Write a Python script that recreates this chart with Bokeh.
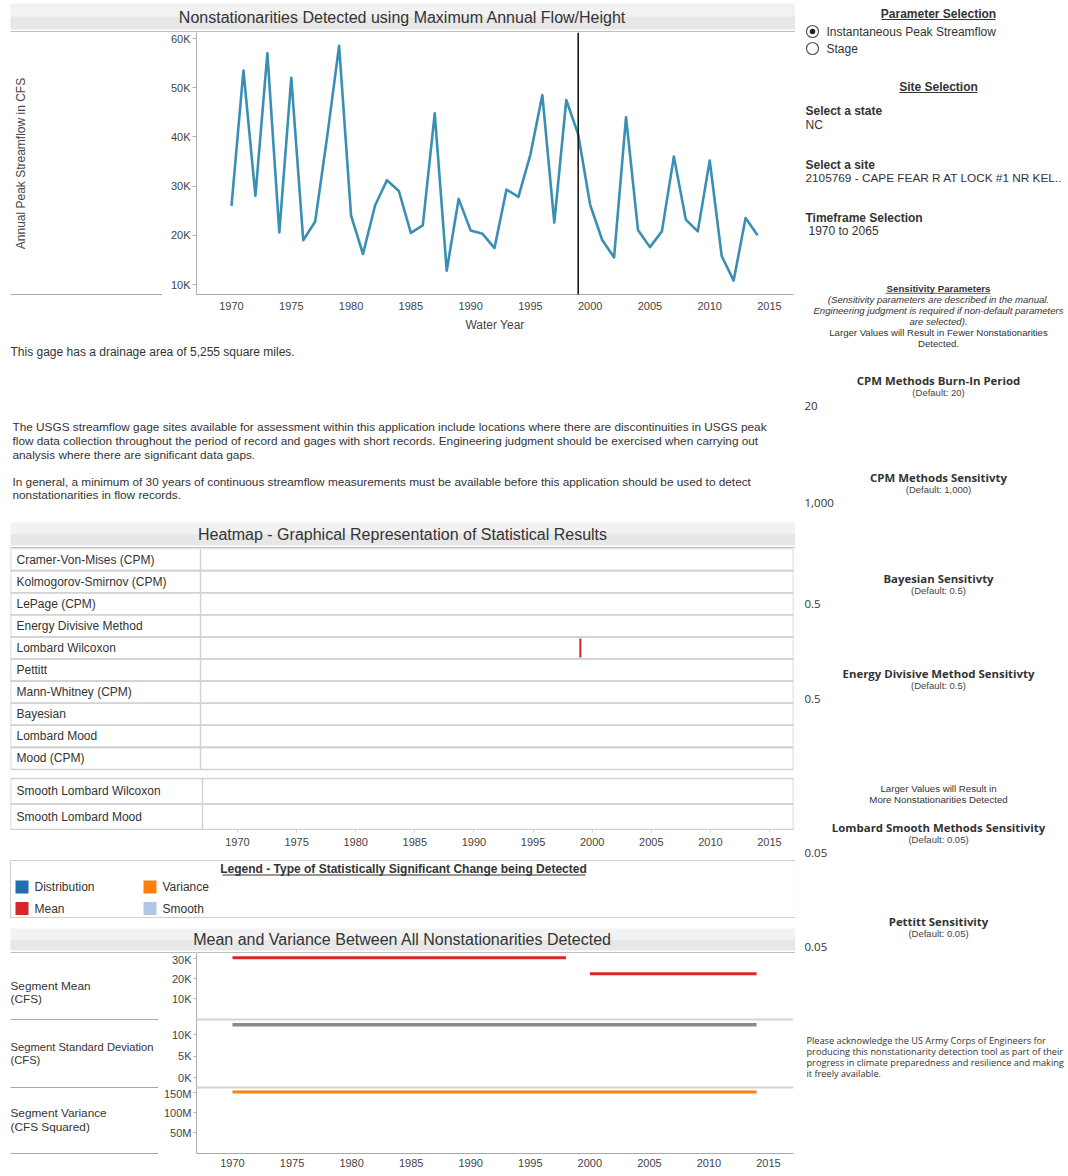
import math
from bokeh.plotting import figure
from bokeh.layouts import row, column
from bokeh.models import Range1d, FixedTicker, Span
from bokeh.core.properties import value
from bokeh.embed import file_html
from bokeh.resources import INLINE

# ---------------- data ----------------
years = list(range(1970, 2015))
peak_flow = [26000, 53500, 28000, 57000, 20600, 52000, 19000, 22800, 40000, 58500,
             24000, 16200, 26000, 31200, 29000, 20500, 22000, 44800, 12800, 27400,
             21000, 20300, 17400, 29300, 27800, 36400, 48500, 22600, 47500, 40500,
             26200, 19100, 15500, 44000, 21100, 17600, 20800, 36000, 23200, 20800,
             35200, 15800, 10800, 23500, 20000]
change_years = [1999]
year_ticks = [1970, 1975, 1980, 1985, 1990, 1995, 2000, 2005, 2010, 2015]
flow_ticks = [10000, 20000, 30000, 40000, 50000, 60000]
flow_tick_labels = ["10K", "20K", "30K", "40K", "50K", "60K"]

methods = ["Cramer-Von-Mises (CPM)", "Kolmogorov-Smirnov (CPM)", "LePage (CPM)",
           "Energy Divisive Method", "Lombard Wilcoxon", "Pettitt", "Mann-Whitney (CPM)",
           "Bayesian", "Lombard Mood", "Mood (CPM)"]
smooth_methods = ["Smooth Lombard Wilcoxon", "Smooth Lombard Mood"]
det_method = ["Lombard Wilcoxon"]
det_year = [1999]
det_type = ["Mean"]
change_types = ["Distribution", "Mean", "Variance", "Smooth"]
change_colors = ["#1f6fae", "#d62728", "#ff7f0e", "#aec7e8"]

seg_start = [1970, 2000]
seg_end = [1998, 2014]
seg_mean = [30400, 22400]
sd_start = [1970]
sd_end = [2014]
seg_sd = [12300]
seg_var = [151500000]
mean_ticks = [10000, 20000, 30000]
mean_tick_labels = ["10K", "20K", "30K"]
sd_ticks = [0, 5000, 10000]
sd_tick_labels = ["0K", "5K", "10K"]
var_ticks = [50000000, 100000000, 150000000]
var_tick_labels = ["50M", "100M", "150M"]

# ---------------- helpers ----------------
FONT = "Liberation Sans"
SEGOE = "Open Sans"
TXT = "#333333"
AX = "#b0b0b0"
LW = 795  # left column width


def base_fig(w, h, xr, yr, **kw):
    p = figure(width=w, height=h, x_range=xr, y_range=yr, toolbar_location=None,
               tools="", output_backend="svg", **kw)
    p.outline_line_color = None
    p.grid.visible = False
    p.background_fill_color = "white"
    p.border_fill_color = "white"
    return p


def pix_fig(w, h):
    p = base_fig(w, h, Range1d(0, w), Range1d(h, 0), x_axis_location=None,
                 y_axis_location=None, min_border=0)
    p.frame_align = False
    return p


def txt(p, x, y, s, size=12, style="normal", align="left", color=TXT, font=FONT, angle=0):
    xs = x if isinstance(x, list) else [x]
    ys = y if isinstance(y, list) else [y]
    ss = s if isinstance(s, list) else [s]
    p.text(x=xs, y=ys, text=ss, text_font=value(font), text_font_size=f"{size}px",
           text_font_style=style, text_align=align, text_baseline="middle",
           text_color=color, angle=angle)


def hline(p, x0, x1, y, color=AX, width=1):
    p.segment(x0=[x0], y0=[y], x1=[x1], y1=[y], line_color=color, line_width=width)


def style_axis(ax, size="11px"):
    ax.major_label_text_font = FONT
    ax.major_label_text_font_size = size
    ax.major_label_text_color = "#444444"
    ax.axis_line_color = AX
    ax.major_tick_line_color = AX
    ax.minor_tick_line_color = None
    ax.major_tick_in = 0


def title_bar(h, top, bot, text, ty, rule_y):
    p = pix_fig(LW, h)
    mid = (top + bot) / 2
    p.quad(left=[10], right=[LW], top=[top], bottom=[mid], fill_color="#f2f2f2", line_color=None)
    p.quad(left=[10], right=[LW], top=[mid], bottom=[bot], fill_color="#e7e7e7", line_color=None)
    txt(p, 402, ty, text, size=16, align="center", color="#333333")
    hline(p, 10, LW, rule_y, color="#a8a8a8", width=1.2)
    return p


# ---------------- top chart ----------------
t1 = title_bar(32, 3, 29, "Nonstationarities Detected using Maximum Annual Flow/Height", 16.5, 31.4)

l1 = pix_fig(162, 308)
txt(l1, 20, 131, "Annual Peak Streamflow in CFS", size=12, align="center",
    color="#444444", angle=math.pi / 2)
hline(l1, 10, 162, 262, color="#a8a8a8")

ppy_t = (769 - 231) / 45
top = base_fig(633, 308, Range1d(1970 - 35 / ppy_t, 2015 + 24 / ppy_t), Range1d(7970, 61220),
               min_border_left=34, min_border_right=2, min_border_top=0, min_border_bottom=46)
top.frame_align = False
top.line(years, peak_flow, line_color="#3a8fb5", line_width=2.6, line_join="round")
for cy in change_years:
    top.add_layout(Span(location=cy, dimension="height", line_color="#1a1a1a", line_width=1.6))
xa = top.xaxis[0]
style_axis(xa)
xa.axis_line_color = "#a8a8a8"
xa.ticker = FixedTicker(ticks=year_ticks)
xa.major_tick_out = 0
xa.major_label_standoff = 7
xa.axis_label = "Water Year"
xa.axis_label_text_font = FONT
xa.axis_label_text_font_size = "12px"
xa.axis_label_text_font_style = "normal"
xa.axis_label_text_color = "#444444"
xa.axis_label_standoff = 5
ya = top.yaxis[0]
style_axis(ya)
ya.ticker = FixedTicker(ticks=flow_ticks)
ya.major_label_overrides = dict(zip(flow_ticks, flow_tick_labels))
ya.major_tick_out = 4
ya.major_label_standoff = 2

top_sec = column(t1, row(l1, top))

# ---------------- text block ----------------
tf = pix_fig(LW, 175)
txt(tf, 10, 11, "This gage has a drainage area of 5,255 square miles.", size=12)
para1 = ["The USGS streamflow gage sites available for assessment within this application include locations where there are discontinuities in USGS peak",
         "flow data collection throughout the period of record and gages with short records. Engineering judgment should be exercised when carrying out",
         "analysis where there are significant data gaps."]
para2 = ["In general, a minimum of 30 years of continuous streamflow measurements must be available before this application should be used to detect",
         "nonstationarities in flow records."]
txt(tf, [12] * 3, [86, 100, 114], para1, size=11.8)
txt(tf, [12] * 2, [141, 154], para2, size=11.8)

# ---------------- heatmap ----------------
t2 = title_bar(33, 7, 30, "Heatmap - Graphical Representation of Statistical Results", 19, 32.4)

ppy_h = (769 - 237) / 45
hx0 = 1970 - (237 - 10) / ppy_h
hx1 = 2015 + (793 - 769) / ppy_h
heat = base_fig(LW, 307, Range1d(hx0, hx1), Range1d(281, 0), y_axis_location=None,
                min_border_left=10, min_border_right=2, min_border_top=0, min_border_bottom=26)
heat.frame_align = False
row_h = 22.1
tops1 = [i * row_h for i in range(len(methods))]
bots1 = [(i + 1) * row_h for i in range(len(methods))]
heat.quad(left=hx0, right=hx1, top=tops1, bottom=bots1, fill_color=None,
          line_color="#d2d2d2", line_width=1.6)
sep1 = hx0 + (200 - 10) / ppy_h
heat.segment(x0=[sep1], y0=[0], x1=[sep1], y1=[bots1[-1]], line_color="#d2d2d2", line_width=1.4)
p2_top = bots1[-1] + 9
row_h2 = (281 - p2_top) / len(smooth_methods)
tops2 = [p2_top + i * row_h2 for i in range(len(smooth_methods))]
bots2 = [p2_top + (i + 1) * row_h2 for i in range(len(smooth_methods))]
heat.quad(left=hx0, right=hx1, top=tops2, bottom=bots2, fill_color=None,
          line_color="#d2d2d2", line_width=1.6)
sep2 = hx0 + (202 - 10) / ppy_h
heat.segment(x0=[sep2], y0=[p2_top], x1=[sep2], y1=[281], line_color="#d2d2d2", line_width=1.4)
lab_x = hx0 + 6 / ppy_h
txt(heat, [lab_x] * len(methods), [t + row_h / 2 for t in tops1], methods, size=12)
txt(heat, [lab_x] * len(smooth_methods), [t + row_h2 / 2 for t in tops2], smooth_methods, size=12)
for m, yr, tp in zip(det_method, det_year, det_type):
    i = methods.index(m)
    heat.quad(left=[yr - 1 / ppy_h], right=[yr + 1 / ppy_h], top=[tops1[i] + 1.5],
              bottom=[bots1[i] - 1.5], fill_color=change_colors[change_types.index(tp)],
              line_color=None)
hxa = heat.xaxis[0]
style_axis(hxa)
hxa.axis_line_color = "#d2d2d2"
hxa.major_tick_line_color = "#d2d2d2"
hxa.ticker = FixedTicker(ticks=year_ticks)
hxa.major_tick_out = 3
hxa.major_label_standoff = 5

heat_sec = column(t2, heat)

# ---------------- legend ----------------
lf = pix_fig(LW, 70)
lf.quad(left=[10], right=[LW], top=[5], bottom=[62], fill_color=None, line_color="#d0d0d0", line_width=1.2)
txt(lf, 403, 13, "Legend - Type of Statistically Significant Change being Detected", size=12,
    style="bold", align="center")
hline(lf, 222, 585, 19.5, color="#333333", width=1)
leg_x = [21.5, 21.5, 149.5, 149.5]
leg_y = [31.5, 53, 31.5, 53]
lf.rect(x=leg_x, y=leg_y, width=13, height=13, fill_color=change_colors, line_color=None)
txt(lf, [x + 12.5 for x in leg_x], leg_y, change_types, size=12)

# ---------------- bottom: mean & variance ----------------
t3 = title_bar(28, 3, 25, "Mean and Variance Between All Nonstationarities Detected", 14, 27.4)

LB = 158  # width of the bottom label strip
l3 = pix_fig(LB, 223)
txt(l3, [10, 10], [32, 45], ["Segment Mean", "(CFS)"], size=11.8)
txt(l3, [10, 10], [93, 106], ["Segment Standard Deviation", "(CFS)"], size=11.2)
txt(l3, [10, 10], [159, 173], ["Segment Variance", "(CFS Squared)"], size=11.8)
hline(l3, 10, LB, 66, color="#a8a8a8", width=1.2)
hline(l3, 10, LB, 134, color="#a8a8a8", width=1.2)
hline(l3, 10, LB, 200, color="#a8a8a8", width=1.2)

ppy_b = (768 - 232) / 45
bx = Range1d(1970 - (232 - 196) / ppy_b, 2015 + (793 - 768) / ppy_b)
CW = LW - LB
BL = 196 - LB


def seg_fig(h, y0, y1, ticks, labels, bottom_border=0):
    p = base_fig(CW, h, bx, Range1d(y0, y1), x_axis_location=None if bottom_border == 0 else "below",
                 min_border_left=BL, min_border_right=2, min_border_top=0,
                 min_border_bottom=bottom_border)
    a = p.yaxis[0]
    style_axis(a)
    a.ticker = FixedTicker(ticks=ticks)
    a.major_label_overrides = dict(zip(ticks, labels))
    a.major_tick_out = 3
    a.major_label_standoff = 2
    return p


mf = seg_fig(66, -500, 32500, mean_ticks, mean_tick_labels)
mf.segment(x0=seg_start, y0=seg_mean, x1=seg_end, y1=seg_mean, line_color="#d62728", line_width=3)
mf.add_layout(Span(location=-500, dimension="width", line_color="#a8a8a8", line_width=1.6))

sf = seg_fig(68, -2300, 13500, sd_ticks, sd_tick_labels)
sf.segment(x0=sd_start, y0=seg_sd, x1=sd_end, y1=seg_sd, line_color="#8a8a8a", line_width=3.5)
sf.add_layout(Span(location=13500, dimension="width", line_color="#a8a8a8", line_width=1.6))
sf.add_layout(Span(location=-2300, dimension="width", line_color="#a8a8a8", line_width=1.6))

vf = seg_fig(89, -2500000, 162500000, var_ticks, var_tick_labels, bottom_border=23)
vf.segment(x0=sd_start, y0=seg_var, x1=sd_end, y1=seg_var, line_color="#ff7f0e", line_width=3)
vf.add_layout(Span(location=162500000, dimension="width", line_color="#a8a8a8", line_width=1.6))
vxa = vf.xaxis[0]
style_axis(vxa)
vxa.axis_line_color = "#a8a8a8"
vxa.ticker = FixedTicker(ticks=year_ticks)
vxa.major_tick_out = 0
vxa.major_label_standoff = 5

bot_sec = column(t3, row(l3, column(mf, sf, vf)))

# ---------------- right panel ----------------
RW = 1068 - LW
rf = pix_fig(RW, 1176)
X = lambda a: a - LW
Y = lambda a: a
CX = X(938)

txt(rf, CX, Y(13), "Parameter Selection", size=12, style="bold", align="center")
hline(rf, X(881), X(995), Y(19), color="#333333")
rf.scatter(x=[X(812), X(812)], y=[Y(31), Y(48)], size=12, marker="circle",
           fill_color="white", line_color="#555555", line_width=1.2)
rf.scatter(x=[X(812)], y=[Y(31)], size=5.5, marker="circle", fill_color="#222222", line_color=None)
txt(rf, [X(826), X(826)], [Y(31), Y(48)], ["Instantaneous Peak Streamflow", "Stage"], size=12)

txt(rf, CX, Y(86), "Site Selection", size=12, style="bold", align="center")
hline(rf, X(899), X(977), Y(92), color="#333333")
txt(rf, X(805), Y(110), "Select a state", size=12, style="bold")
txt(rf, X(805), Y(124), "NC", size=12)
txt(rf, X(805), Y(164), "Select a site", size=12, style="bold")
txt(rf, X(805), Y(177), "2105769 - CAPE FEAR R AT LOCK #1 NR KEL..", size=11.8)
txt(rf, X(805), Y(217), "Timeframe Selection", size=12, style="bold")
txt(rf, X(808), Y(230), "1970 to 2065", size=12)

txt(rf, CX, Y(288), "Sensitivity Parameters", size=9.7, style="bold", align="center")
hline(rf, X(885), X(990), Y(292.8), color="#333333", width=0.8)
txt(rf, [CX] * 3, [Y(299), Y(310), Y(321)],
    ["(Sensitivity parameters are described in the manual.",
     "Engineering judgment is required if non-default parameters",
     "are selected)."], size=9.6, style="italic", align="center")
txt(rf, [CX] * 2, [Y(332), Y(343)],
    ["Larger Values will Result in Fewer Nonstationarities", "Detected."], size=9.6, align="center")

sens_titles = ["CPM Methods Burn-In Period", "CPM Methods Sensitivty", "Bayesian Sensitivty",
               "Energy Divisive Method Sensitivty", "Lombard Smooth Methods Sensitivity",
               "Pettitt Sensitivity"]
sens_defaults = ["(Default: 20)", "(Default: 1,000)", "(Default: 0.5)", "(Default: 0.5)",
                 "(Default: 0.05)", "(Default: 0.05)"]
sens_values = ["20", "1,000", "0.5", "0.5", "0.05", "0.05"]
sens_y = [380, 477, 578, 673, 827, 921]
for t, d, v, yy in zip(sens_titles, sens_defaults, sens_values, sens_y):
    txt(rf, CX, Y(yy), t, size=11.4, style="bold", align="center", font=SEGOE)
    txt(rf, CX, Y(yy + 12), d, size=9.5, align="center", color="#444444")
    txt(rf, X(804), Y(yy + 25.5), v, size=11.5, font=SEGOE)

txt(rf, [CX] * 2, [Y(788), Y(798.5)],
    ["Larger Values will Result in", "More Nonstationarities Detected"], size=9.7, align="center")

ack = ["Please acknowledge the US Army Corps of Engineers for",
       "producing this nonstationarity detection tool as part of their",
       "progress in climate preparedness and resilience and making",
       "it freely available."]
txt(rf, [X(806)] * 4, [Y(1039.5), Y(1050.5), Y(1061.5), Y(1072.5)], ack, size=9.2, font=SEGOE)

# ---------------- assemble ----------------
left = column(top_sec, tf, heat_sec, lf, bot_sec)
root = row(left, rf)

open("out.html", "w").write(file_html(root, INLINE))
